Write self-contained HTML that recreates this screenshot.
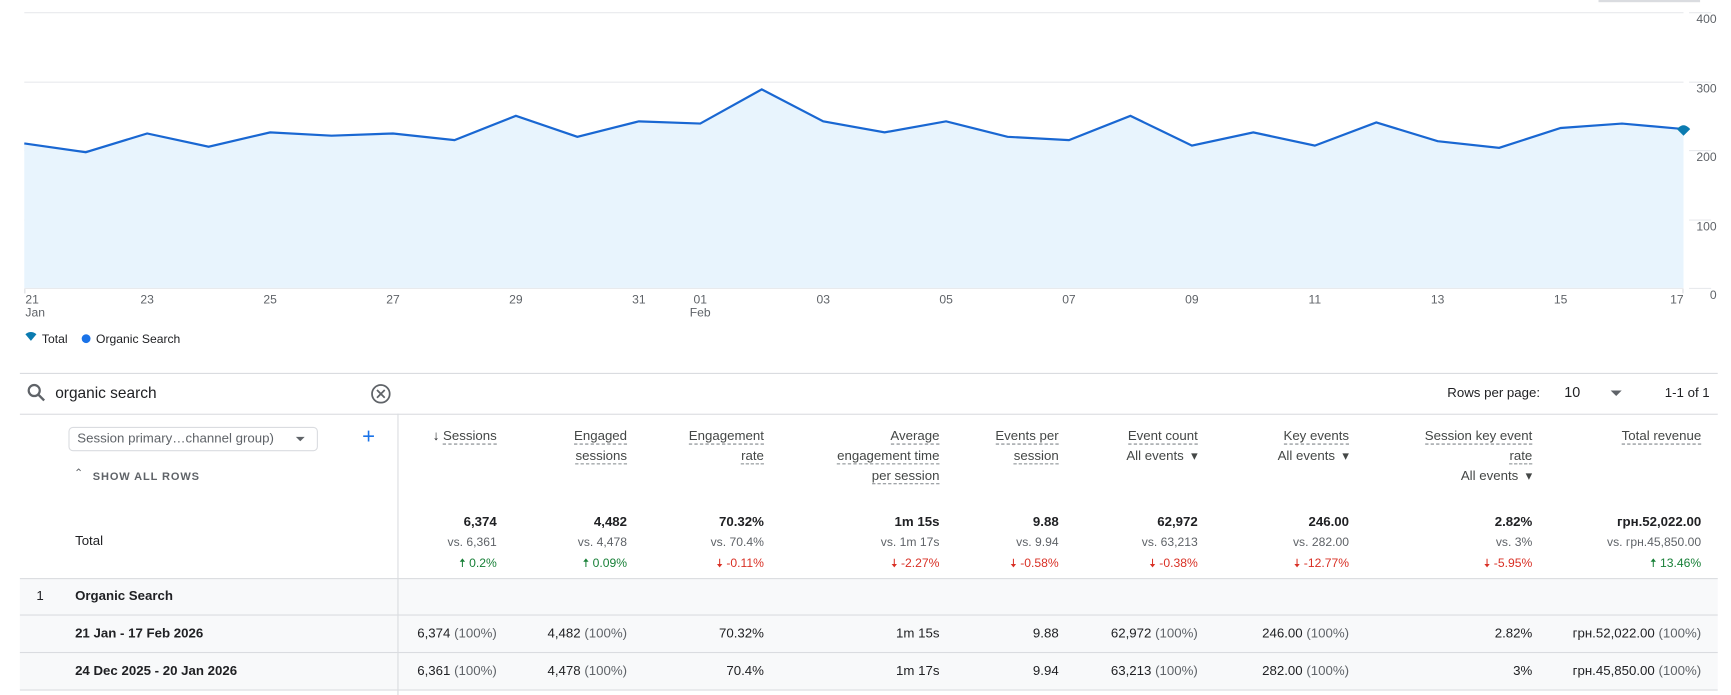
<!DOCTYPE html>
<html><head><meta charset="utf-8"><style>
html,body{margin:0;padding:0;background:#fff;overflow:hidden}
#wrap{position:absolute;left:0;top:0;width:1568px;height:630px;transform:scale(1.10395,1.10317);transform-origin:0 0;font-family:"Liberation Sans",sans-serif;color:#202124}
.a{position:absolute;white-space:nowrap}
.r{position:absolute;white-space:nowrap;text-align:right}
.h{font-size:12px;color:#444746;line-height:18px}
.h u{text-decoration:none;border-bottom:1px dashed #80868b}
.b{font-size:12px;font-weight:bold;color:#202124}
.v{font-size:11px;color:#5f6368}
.g{font-size:11px;color:#188038}
.d{font-size:11px;color:#d93025}
.hl{position:absolute;height:1px;background:#dadce0}
.row{position:absolute;left:18px;width:1538px;background:#f8f9fa}
.c{font-size:12px;color:#202124}
.c span{color:#5f6368}
</style></head><body><div id="wrap">
<div class="a" style="left:1448px;top:0;width:92px;height:2px;background:#dadce0"></div>
<svg class="a" style="left:0;top:0" width="1568" height="330">
<g stroke="#e8eaed" stroke-width="1">
<line x1="22" y1="11.5" x2="1525" y2="11.5"/><line x1="22" y1="74.5" x2="1525" y2="74.5"/><line x1="22" y1="136.5" x2="1525" y2="136.5"/><line x1="22" y1="199.5" x2="1525" y2="199.5"/><line x1="22" y1="261.5" x2="1525" y2="261.5"/>
<line x1="1530" y1="11.5" x2="1550" y2="11.5"/><line x1="1530" y1="74.5" x2="1550" y2="74.5"/><line x1="1530" y1="136.5" x2="1550" y2="136.5"/><line x1="1530" y1="199.5" x2="1550" y2="199.5"/><line x1="1530" y1="261.5" x2="1550" y2="261.5"/>
</g>
<polygon fill="#e8f4fd" points="22,261 22,130 77.7,138 133.3,121 189,133 244.7,120 300.3,123 356,121 411.7,127 467.3,105 523,124 578.7,110 634.3,112 690,81 745.7,110 801.3,120 857,110 912.7,124 968.3,127 1024,105 1079.7,132 1135.3,120 1191,132 1246.7,111 1302.3,128 1358,134 1413.7,116 1469.3,112 1525,117 1525,261"/>
<polyline fill="none" stroke="#1967d2" stroke-width="2" points="22,130 77.7,138 133.3,121 189,133 244.7,120 300.3,123 356,121 411.7,127 467.3,105 523,124 578.7,110 634.3,112 690,81 745.7,110 801.3,120 857,110 912.7,124 968.3,127 1024,105 1079.7,132 1135.3,120 1191,132 1246.7,111 1302.3,128 1358,134 1413.7,116 1469.3,112 1525,117"/>
<path d="M1519,117 Q1525,110 1531,117 L1525,123 Z" fill="#0b7bb0"/>
<g stroke="#dadce0"><line x1="22.5" y1="262" x2="22.5" y2="266"/><line x1="1524.5" y1="262" x2="1524.5" y2="266"/></g>
<g font-size="11" fill="#5f6368" font-family="Liberation Sans,sans-serif">
<text x="1555" y="21" text-anchor="end">400</text><text x="1555" y="84" text-anchor="end">300</text><text x="1555" y="146" text-anchor="end">200</text><text x="1555" y="209" text-anchor="end">100</text><text x="1555" y="271" text-anchor="end">0</text>
<text x="23" y="275">21</text><text x="23" y="287">Jan</text>
<text x="133.3" y="275" text-anchor="middle">23</text><text x="244.7" y="275" text-anchor="middle">25</text><text x="356" y="275" text-anchor="middle">27</text><text x="467.3" y="275" text-anchor="middle">29</text><text x="578.7" y="275" text-anchor="middle">31</text>
<text x="634.3" y="275" text-anchor="middle">01</text><text x="634.3" y="287" text-anchor="middle">Feb</text>
<text x="745.7" y="275" text-anchor="middle">03</text><text x="857" y="275" text-anchor="middle">05</text><text x="968.3" y="275" text-anchor="middle">07</text><text x="1079.7" y="275" text-anchor="middle">09</text><text x="1191" y="275" text-anchor="middle">11</text><text x="1302.3" y="275" text-anchor="middle">13</text><text x="1413.7" y="275" text-anchor="middle">15</text><text x="1519" y="275" text-anchor="middle">17</text>
</g>
<path d="M23,303 Q28,299 33,303 L28,309 Z" fill="#0b7bb0"/>
<circle cx="78" cy="307" r="4" fill="#1a73e8"/>
<g font-size="11" fill="#202124" font-family="Liberation Sans,sans-serif"><text x="38" y="311">Total</text><text x="87" y="311">Organic Search</text></g>
</svg>
<div class="hl" style="left:18px;top:338px;width:1538px"></div>
<svg class="a" style="left:24px;top:347px" width="18" height="18"><circle cx="7" cy="7" r="5" fill="none" stroke="#5f6368" stroke-width="2"/><line x1="11" y1="11" x2="16" y2="16" stroke="#5f6368" stroke-width="2.2"/></svg>
<div class="a" style="left:50px;top:348px;font-size:14px;color:#202124">organic search</div>
<svg class="a" style="left:335px;top:347px" width="20" height="20"><circle cx="10" cy="10" r="8" fill="none" stroke="#5f6368" stroke-width="1.6"/><path d="M6.5,6.5 L13.5,13.5 M13.5,6.5 L6.5,13.5" stroke="#5f6368" stroke-width="1.6"/></svg>
<div class="a" style="left:1311px;top:349px;font-size:12px;color:#202124">Rows per page:</div>
<div class="a" style="left:1417px;top:348px;font-size:13px;color:#202124">10</div>
<div class="a" style="left:1459px;top:354px;width:0;height:0;border-left:5px solid transparent;border-right:5px solid transparent;border-top:5px solid #5f6368"></div>
<div class="a" style="left:1508px;top:349px;font-size:12px;color:#202124">1-1 of 1</div>
<div class="hl" style="left:18px;top:375px;width:1538px"></div>
<div class="a" style="left:360px;top:375px;width:1px;height:255px;background:#dadce0"></div>
<div class="a" style="left:62px;top:387px;width:224px;height:20px;border:1px solid #dadce0;border-radius:4px"></div>
<div class="a" style="left:70px;top:390px;font-size:12px;color:#5f6368">Session primary…channel group)</div>
<div class="a" style="left:268px;top:396px;border-left:4px solid transparent;border-right:4px solid transparent;border-top:4px solid #5f6368"></div>
<div class="a" style="left:328px;top:385px;font-size:20px;color:#1a73e8">+</div>
<div class="a" style="left:67px;top:424px;font-size:10px;color:#5f6368">⌃</div>
<div class="a" style="left:84px;top:427px;font-size:10px;color:#5f6368;letter-spacing:0.8px;font-weight:bold">SHOW ALL ROWS</div>
<div class="r h" style="right:1118px;top:386px"><b style="color:#202124">↓</b> <u>Sessions</u></div>
<div class="r h" style="right:1000px;top:386px"><u>Engaged</u><br><u>sessions</u></div>
<div class="r h" style="right:876px;top:386px"><u>Engagement</u><br><u>rate</u></div>
<div class="r h" style="right:717px;top:386px"><u>Average</u><br><u>engagement time</u><br><u>per session</u></div>
<div class="r h" style="right:609px;top:386px"><u>Events per</u><br><u>session</u></div>
<div class="r h" style="right:483px;top:386px"><u>Event count</u><br>All events &nbsp;▾</div>
<div class="r h" style="right:346px;top:386px"><u>Key events</u><br>All events &nbsp;▾</div>
<div class="r h" style="right:180px;top:386px"><u>Session key event</u><br><u>rate</u><br>All events &nbsp;▾</div>
<div class="r h" style="right:27px;top:386px"><u>Total revenue</u></div>
<div class="a" style="left:68px;top:483px;font-size:12px;color:#202124">Total</div>
<div class="r" style="right:1118px;top:464px;line-height:19px"><div class="b">6,374</div><div class="v">vs. 6,361</div><div class="g">🠅 0.2%</div></div>
<div class="r" style="right:1000px;top:464px;line-height:19px"><div class="b">4,482</div><div class="v">vs. 4,478</div><div class="g">🠅 0.09%</div></div>
<div class="r" style="right:876px;top:464px;line-height:19px"><div class="b">70.32%</div><div class="v">vs. 70.4%</div><div class="d">🠇 -0.11%</div></div>
<div class="r" style="right:717px;top:464px;line-height:19px"><div class="b">1m 15s</div><div class="v">vs. 1m 17s</div><div class="d">🠇 -2.27%</div></div>
<div class="r" style="right:609px;top:464px;line-height:19px"><div class="b">9.88</div><div class="v">vs. 9.94</div><div class="d">🠇 -0.58%</div></div>
<div class="r" style="right:483px;top:464px;line-height:19px"><div class="b">62,972</div><div class="v">vs. 63,213</div><div class="d">🠇 -0.38%</div></div>
<div class="r" style="right:346px;top:464px;line-height:19px"><div class="b">246.00</div><div class="v">vs. 282.00</div><div class="d">🠇 -12.77%</div></div>
<div class="r" style="right:180px;top:464px;line-height:19px"><div class="b">2.82%</div><div class="v">vs. 3%</div><div class="d">🠇 -5.95%</div></div>
<div class="r" style="right:27px;top:464px;line-height:19px"><div class="b">грн.52,022.00</div><div class="v">vs. грн.45,850.00</div><div class="g">🠅 13.46%</div></div>
<div class="row" style="top:524px;height:101px"></div>
<div class="a" style="left:360px;top:524px;width:1px;height:106px;background:#dadce0"></div>
<div class="hl" style="left:18px;top:524px;width:1538px"></div>
<div class="hl" style="left:18px;top:557px;width:1538px"></div>
<div class="hl" style="left:18px;top:591px;width:1538px"></div>
<div class="hl" style="left:18px;top:625px;width:1538px"></div>
<div class="a" style="left:33px;top:533px;font-size:12px">1</div>
<div class="a b" style="left:68px;top:533px">Organic Search</div>
<div class="a b" style="left:68px;top:567px">21 Jan - 17 Feb 2026</div>
<div class="a b" style="left:68px;top:601px">24 Dec 2025 - 20 Jan 2026</div>
<div class="r c" style="right:1118px;top:567px">6,374 <span>(100%)</span></div>
<div class="r c" style="right:1000px;top:567px">4,482 <span>(100%)</span></div>
<div class="r c" style="right:876px;top:567px">70.32%</div>
<div class="r c" style="right:717px;top:567px">1m 15s</div>
<div class="r c" style="right:609px;top:567px">9.88</div>
<div class="r c" style="right:483px;top:567px">62,972 <span>(100%)</span></div>
<div class="r c" style="right:346px;top:567px">246.00 <span>(100%)</span></div>
<div class="r c" style="right:180px;top:567px">2.82%</div>
<div class="r c" style="right:27px;top:567px">грн.52,022.00 <span>(100%)</span></div>
<div class="r c" style="right:1118px;top:601px">6,361 <span>(100%)</span></div>
<div class="r c" style="right:1000px;top:601px">4,478 <span>(100%)</span></div>
<div class="r c" style="right:876px;top:601px">70.4%</div>
<div class="r c" style="right:717px;top:601px">1m 17s</div>
<div class="r c" style="right:609px;top:601px">9.94</div>
<div class="r c" style="right:483px;top:601px">63,213 <span>(100%)</span></div>
<div class="r c" style="right:346px;top:601px">282.00 <span>(100%)</span></div>
<div class="r c" style="right:180px;top:601px">3%</div>
<div class="r c" style="right:27px;top:601px">грн.45,850.00 <span>(100%)</span></div>
</div></body></html>
